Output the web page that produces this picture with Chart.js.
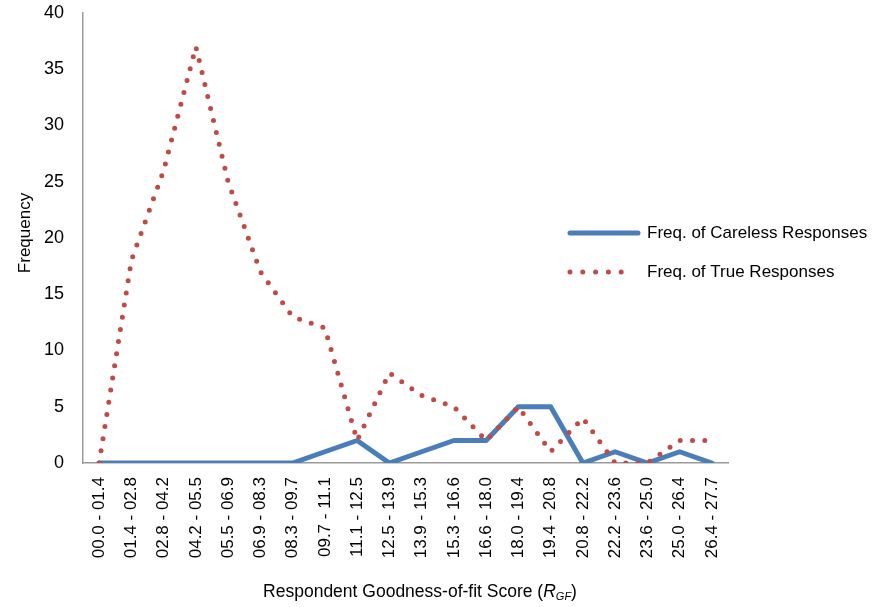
<!DOCTYPE html>
<html>
<head>
<meta charset="utf-8">
<title>Respondent Goodness-of-fit Score</title>
<script src="https://cdn.jsdelivr.net/npm/chart.js@4/dist/chart.umd.min.js"></script>
<style>
  html, body { margin: 0; padding: 0; background: #ffffff; }
  #wrap { width: 877px; height: 607px; }
</style>
</head>
<body>
<div id="wrap"><canvas id="chart" width="877" height="607"></canvas></div>
<script>
// Score bins (R_GF ranges)
const categories = [
  '00.0 - 01.4', '01.4 - 02.8', '02.8 - 04.2', '04.2 - 05.5', '05.5 - 06.9',
  '06.9 - 08.3', '08.3 - 09.7', '09.7 - 11.1', '11.1 - 12.5', '12.5 - 13.9',
  '13.9 - 15.3', '15.3 - 16.6', '16.6 - 18.0', '18.0 - 19.4', '19.4 - 20.8',
  '20.8 - 22.2', '22.2 - 23.6', '23.6 - 25.0', '25.0 - 26.4', '26.4 - 27.7'
];
const carelessFreq = [0, 0, 0, 0, 0, 0, 0, 1, 2, 0, 1, 2, 2, 5, 5, 0, 1, 0, 1, 0];
const trueFreq     = [0, 18, 26, 37, 25, 17, 13, 12, 2, 8, 6, 5, 2, 5, 1, 4, 0, 0, 2, 2];
const yTicks = [0, 5, 10, 15, 20, 25, 30, 35, 40];

const seriesNames = ['Freq. of Careless Responses', 'Freq. of True Responses'];
const BLUE = '#4a7ebb';
const RED = '#be4b48';
const AXIS = '#9a9a9a';
const FONT = '"Liberation Sans", Arial, sans-serif';

Chart.defaults.font.family = FONT;
Chart.defaults.color = '#000000';

// Legend and axis titles drawn straight onto the canvas
const decorations = {
  id: 'decorations',
  afterDraw(chart) {
    const ctx = chart.ctx;
    ctx.save();

    // legend
    const lx0 = 570, lx1 = 638, ly0 = 233, ly1 = 272;
    ctx.lineCap = 'round';
    ctx.strokeStyle = BLUE;
    ctx.lineWidth = 5;
    ctx.beginPath(); ctx.moveTo(lx0, ly0); ctx.lineTo(lx1, ly0); ctx.stroke();
    ctx.strokeStyle = RED;
    ctx.lineWidth = 5;
    ctx.setLineDash([0, 12.8]);
    ctx.beginPath(); ctx.moveTo(lx0, ly1); ctx.lineTo(lx1 - 4, ly1); ctx.stroke();
    ctx.setLineDash([]);
    ctx.fillStyle = '#000000';
    ctx.font = '17px ' + FONT;
    ctx.textBaseline = 'middle';
    ctx.textAlign = 'left';
    ctx.fillText(seriesNames[0], 647, ly0);
    ctx.fillText(seriesNames[1], 647, ly1);

    // y axis title
    ctx.save();
    ctx.translate(25, 233);
    ctx.rotate(-Math.PI / 2);
    ctx.textAlign = 'center';
    ctx.fillText('Frequency', 0, 0);
    ctx.restore();

    // x axis title with italic subscripted R_GF
    const size = 17.5;
    const base = 'Respondent Goodness-of-fit Score (';
    ctx.textBaseline = 'alphabetic';
    ctx.font = size + 'px ' + FONT;
    const wBase = ctx.measureText(base).width;
    ctx.font = 'italic ' + size + 'px ' + FONT;
    const wR = ctx.measureText('R').width;
    ctx.font = 'italic 11px ' + FONT;
    const wGF = ctx.measureText('GF').width;
    ctx.font = size + 'px ' + FONT;
    const wClose = ctx.measureText(')').width;
    const total = wBase + wR + wGF + wClose;
    let x = 420 - total / 2;
    const y = 597;
    ctx.fillText(base, x, y); x += wBase;
    ctx.font = 'italic ' + size + 'px ' + FONT;
    ctx.fillText('R', x, y); x += wR;
    ctx.font = 'italic 11px ' + FONT;
    ctx.fillText('GF', x, y + 3); x += wGF;
    ctx.font = size + 'px ' + FONT;
    ctx.fillText(')', x, y);

    ctx.restore();
  }
};

new Chart(document.getElementById('chart'), {
  type: 'line',
  data: {
    labels: categories,
    datasets: [
      {
        label: seriesNames[0],
        data: carelessFreq,
        borderColor: BLUE,
        backgroundColor: BLUE,
        borderWidth: 5,
        borderJoinStyle: 'round',
        borderCapStyle: 'round',
        pointRadius: 0,
        tension: 0,
        order: 2
      },
      {
        label: seriesNames[1],
        data: trueFreq,
        borderColor: RED,
        backgroundColor: RED,
        borderWidth: 5,
        borderDash: [0, 12.3],
        borderCapStyle: 'round',
        pointRadius: 0,
        tension: 0,
        order: 1
      }
    ]
  },
  options: {
    responsive: false,
    animation: false,
    events: [],
    layout: { padding: { left: 0, right: 149, top: 13, bottom: 0 } },
    plugins: {
      legend: { display: false },
      tooltip: { enabled: false },
      title: { display: false }
    },
    scales: {
      x: {
        offset: true,
        grid: { display: false, drawTicks: false },
        border: { display: true, color: AXIS, width: 1.5 },
        ticks: {
          autoSkip: false,
          maxRotation: 90,
          minRotation: 90,
          padding: 14,
          font: { size: 17 },
          color: '#000000'
        },
        afterFit(scale) {
          scale.height = 144;
          scale.paddingTop = 0;
          scale.paddingBottom = 0;
        }
      },
      y: {
        min: 0,
        max: 40,
        afterBuildTicks(scale) { scale.ticks = yTicks.map(v => ({ value: v })); },
        grid: { display: false, drawTicks: false },
        border: { display: true, color: AXIS, width: 1.5 },
        ticks: {
          padding: 19,
          font: { size: 18 },
          color: '#000000'
        },
        afterFit(scale) {
          scale.width = 83;
          scale.paddingTop = 0;
          scale.paddingBottom = 0;
        }
      }
    }
  },
  plugins: [decorations]
});
</script>
</body>
</html>
